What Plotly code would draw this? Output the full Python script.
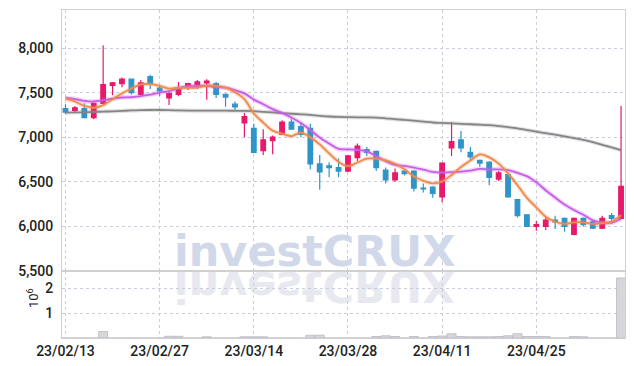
import plotly.graph_objects as go
import base64

# ---------------- data ----------------
dates = ["23/02/13", "23/02/14", "23/02/15", "23/02/16", "23/02/17",
         "23/02/20", "23/02/21", "23/02/22", "23/02/23", "23/02/24",
         "23/02/27", "23/02/28", "23/03/02", "23/03/03", "23/03/06",
         "23/03/07", "23/03/08", "23/03/09", "23/03/10", "23/03/13",
         "23/03/14", "23/03/15", "23/03/16", "23/03/17", "23/03/20",
         "23/03/21", "23/03/22", "23/03/23", "23/03/24", "23/03/27",
         "23/03/28", "23/03/29", "23/03/30", "23/03/31", "23/04/03",
         "23/04/04", "23/04/05", "23/04/06", "23/04/07", "23/04/10",
         "23/04/11", "23/04/12", "23/04/13", "23/04/14", "23/04/17",
         "23/04/18", "23/04/19", "23/04/20", "23/04/21", "23/04/24",
         "23/04/25", "23/04/26", "23/04/27", "23/04/28", "23/05/02",
         "23/05/03", "23/05/04", "23/05/08", "23/05/09", "23/05/10"]

opens = [7320, 7300, 7320, 7220, 7380, 7580, 7600, 7650, 7480, 7680,
         7550, 7440, 7480, 7570, 7570, 7610, 7600, 7480, 7370, 7160,
         7100, 6850, 6960, 7030, 7170, 7120, 7100, 6700, 6680, 6660,
         6620, 6770, 6860, 6840, 6630, 6520, 6620, 6620, 6430, 6440,
         6330, 6880, 6970, 6830, 6740, 6720, 6530, 6580, 6300, 6130,
         6000, 6000, 6070, 6090, 5910, 6090, 6050, 5980, 6120, 6090]
highs = [7370, 7350, 7380, 7390, 8030, 7620, 7670, 7650, 7640, 7700,
         7580, 7510, 7620, 7610, 7640, 7650, 7620, 7490, 7400, 7270,
         7150, 7090, 7020, 7190, 7200, 7170, 7150, 6800, 6720, 6760,
         6800, 6930, 6890, 6850, 6660, 6650, 6630, 6630, 6480, 6450,
         6720, 7170, 7070, 6890, 6750, 6730, 6620, 6590, 6310, 6130,
         6060, 6110, 6120, 6100, 6100, 6100, 6060, 6120, 6150, 7350]
lows = [7260, 7280, 7220, 7200, 7370, 7470, 7560, 7480, 7460, 7540,
        7460, 7360, 7460, 7530, 7540, 7420, 7440, 7340, 7300, 7000,
        6820, 6800, 6810, 7030, 7090, 7000, 6640, 6410, 6550, 6550,
        6610, 6730, 6790, 6620, 6480, 6500, 6570, 6390, 6380, 6320,
        6270, 6790, 6830, 6740, 6670, 6460, 6510, 6320, 6100, 6000,
        5950, 5960, 5970, 5940, 5900, 6000, 5970, 5970, 6030, 6080]
closes = [7280, 7330, 7220, 7380, 7590, 7610, 7650, 7500, 7610, 7600,
          7520, 7490, 7550, 7600, 7620, 7630, 7480, 7450, 7340, 7230,
          6830, 6970, 7000, 7170, 7090, 7030, 6700, 6610, 6660, 6620,
          6790, 6900, 6830, 6660, 6520, 6600, 6590, 6430, 6420, 6370,
          6710, 6950, 6880, 6780, 6710, 6550, 6600, 6330, 6120, 6000,
          6020, 6070, 6050, 6000, 6090, 6020, 5980, 6090, 6090, 6450]
# closes of the 9 sessions before the window
prior_closes = [7450, 7440, 7440, 7445, 7445, 7510, 7470, 7480, 7440]

# long moving average (grey)
ma_long = [7275, 7278, 7280, 7283, 7287, 7290, 7295, 7300, 7303, 7305,
           7305, 7303, 7300, 7298, 7297, 7297, 7297, 7297, 7296, 7295,
           7292, 7285, 7278, 7270, 7263, 7257, 7250, 7240, 7232, 7227,
           7225, 7223, 7222, 7220, 7212, 7202, 7195, 7185, 7175, 7165,
           7160, 7155, 7150, 7145, 7140, 7135, 7125, 7112, 7098, 7080,
           7062, 7045, 7028, 7010, 6990, 6970, 6945, 6915, 6885, 6855]

volumes = [0, 0, 0, 0, 260000, 0, 0, 0, 0, 0,
           0, 70000, 70000, 0, 0, 50000, 0, 0, 0, 50000,
           50000, 50000, 0, 0, 0, 0, 110000, 110000, 0, 0,
           0, 0, 0, 60000, 90000, 60000, 0, 60000, 0, 60000,
           80000, 170000, 60000, 50000, 50000, 50000, 60000, 90000, 170000, 60000,
           60000, 60000, 0, 0, 60000, 50000, 0, 0, 0, 2400000]

price_ticks = [5500, 6000, 6500, 7000, 7500, 8000]
vol_ticks = [1000000, 2000000]
vol_tick_labels = ["1", "2"]
date_ticks = dates[0:60:10]

# ---------------- derived ----------------
full = prior_closes + closes
n0 = len(prior_closes)
ma5 = [sum(full[n0 + i - 4:n0 + i + 1]) / 5 for i in range(len(closes))]
ma10 = [sum(full[n0 + i - 9:n0 + i + 1]) / 10 for i in range(len(closes))]

RED = "#e8196a"
BLUE = "#2f95c9"
ORANGE = "#ef8a4c"
PURPLE = "#c95ce9"
GREY = "#858585"
GRID = "#c9cddd"
FRAME = "#d0d0d0"
FONT = "Roboto, sans-serif"

fig = go.Figure()

# grey long MA
fig.add_trace(go.Scatter(x=dates, y=ma_long, mode="lines", line=dict(color=GREY, width=4, shape="spline"),
                         opacity=0.25, hoverinfo="skip", showlegend=False))
fig.add_trace(go.Scatter(x=dates, y=ma_long, mode="lines", line=dict(color=GREY, width=1.8, shape="spline"),
                         hoverinfo="skip", showlegend=False))

fig.add_trace(go.Candlestick(
    x=dates, open=opens, high=highs, low=lows, close=closes,
    increasing=dict(line=dict(color=RED, width=1.2), fillcolor=RED),
    decreasing=dict(line=dict(color=BLUE, width=1.2), fillcolor=BLUE),
    whiskerwidth=0, showlegend=False, xaxis="x", yaxis="y"))

for ma, col in ((ma10, PURPLE), (ma5, ORANGE)):
    fig.add_trace(go.Scatter(x=dates, y=ma, mode="lines", line=dict(color=col, width=4.5, shape="spline"),
                             opacity=0.25, hoverinfo="skip", showlegend=False))
    fig.add_trace(go.Scatter(x=dates, y=ma, mode="lines", line=dict(color=col, width=1.8, shape="spline"),
                             hoverinfo="skip", showlegend=False))

fig.add_trace(go.Bar(x=dates, y=volumes, xaxis="x2", yaxis="y2", width=0.96,
                     marker=dict(color="#d6d6db", line=dict(color="#b9b9c2", width=0.8)),
                     showlegend=False, hoverinfo="skip"))

# watermark reflection (mirrored text) as an SVG image
svg = ('<svg xmlns="http://www.w3.org/2000/svg" width="300" height="50" viewBox="0 0 300 50">'
       '<g transform="scale(1,-1)"><text x="150" y="-2" text-anchor="middle" '
       'font-family="DejaVu Sans" font-weight="bold" font-size="43" fill="#e8e9f0">investCRUX</text></g></svg>')
svg_uri = "data:image/svg+xml;base64," + base64.b64encode(svg.encode()).decode()

L, R, T, B = 62, 9, 10, 28
W, H = 634, 366
pw, ph = W - L - R, H - T - B
split = (338 - 271) / ph

def px(xp):
    return (xp - L) / pw

def py(yp):
    return (T + ph - yp) / ph

tickfont = dict(family=FONT, size=14, color="#222222", weight=500)

fig.update_layout(
    width=W, height=H, autosize=False,
    margin=dict(l=L, r=R, t=T, b=B),
    paper_bgcolor="white", plot_bgcolor="white",
    showlegend=False,
    xaxis=dict(domain=[0, 1], anchor="y", type="category", range=[-0.37, 59.42],
               tickvals=date_ticks, showticklabels=False, showgrid=True, gridcolor=GRID,
               griddash="dot", gridwidth=1, showline=True, mirror=True, linecolor=FRAME,
               ticks="", rangeslider=dict(visible=False), zeroline=False, automargin=False),
    xaxis2=dict(domain=[0, 1], anchor="y2", matches="x", type="category",
                tickvals=date_ticks, ticktext=date_ticks, showticklabels=True, showgrid=True,
                gridcolor=GRID, griddash="dot", gridwidth=1, showline=True, mirror=True,
                linecolor=FRAME, ticks="", tickfont=tickfont, zeroline=False, automargin=False),
    yaxis=dict(domain=[split, 1], anchor="x", range=[5500, 8426], tickvals=price_ticks,
               tickformat=",", showgrid=True, gridcolor=GRID, griddash="dot", gridwidth=1,
               showline=True, mirror=True, linecolor=FRAME, ticks="", ticklabelstandoff=5,
               tickfont=tickfont, zeroline=False, automargin=False),
    yaxis2=dict(domain=[0, split], anchor="x2", range=[0, 2680000], tickvals=vol_ticks,
                ticktext=vol_tick_labels, showgrid=True, gridcolor=GRID, griddash="dot",
                gridwidth=1, showline=True, mirror=True, linecolor=FRAME, ticks="",
                ticklabelstandoff=5, tickfont=tickfont, zeroline=False, automargin=False),
    images=[dict(source=svg_uri, xref="paper", yref="paper", x=px(164.5), y=py(270),
                 sizex=300 / pw, sizey=50 / ph, xanchor="left", yanchor="top",
                 sizing="stretch", layer="below")],
    annotations=[
        dict(text="investCRUX", xref="paper", yref="paper", x=px(314.5), y=py(278),
             xanchor="center", yanchor="bottom", showarrow=False,
             font=dict(family="DejaVu Sans", size=43, color="#d1d8ea", weight="bold")),
        dict(text="10<sup>6</sup>", xref="paper", yref="paper", x=px(33), y=py(298),
             xanchor="center", yanchor="middle", showarrow=False, textangle=-90,
             font=dict(family=FONT, size=13, color="#222222")),
    ],
)

fig.write_html("out.html", config={"displayModeBar": False},
               post_script="document.body.style.margin='0px';")
